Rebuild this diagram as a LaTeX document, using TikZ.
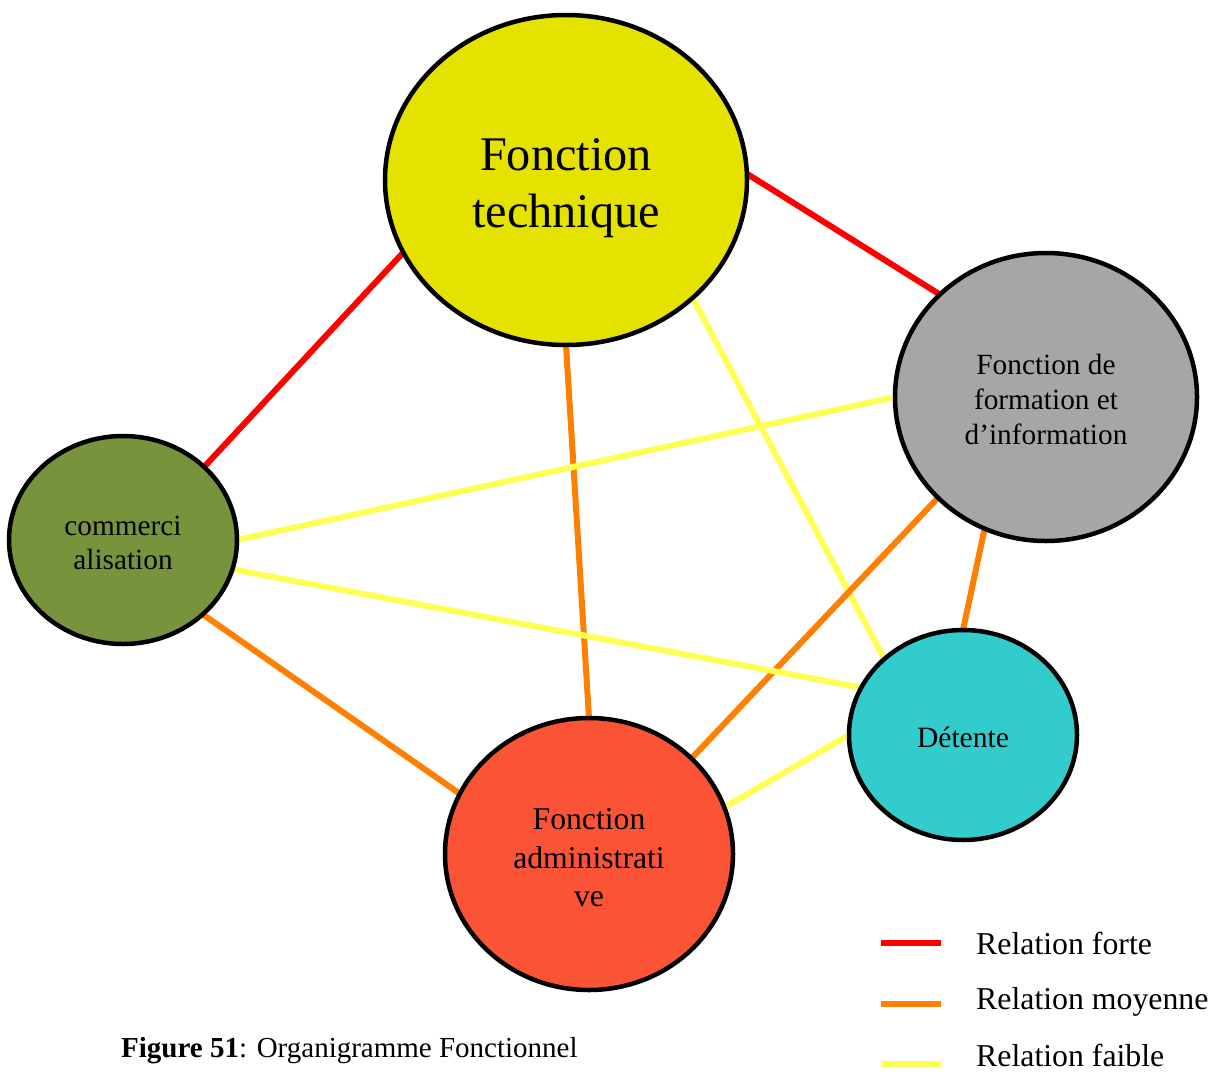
\documentclass[tikz,border=0pt]{standalone}
\usepackage{fontspec}
\setmainfont{Liberation Serif}
\usetikzlibrary{shapes.geometric,backgrounds}
\definecolor{ctech}{HTML}{E6E200}
\definecolor{cform}{HTML}{A6A6A6}
\definecolor{ccomm}{HTML}{77933C}
\definecolor{cdet}{HTML}{33CCCC}
\definecolor{cadm}{HTML}{FA5335}
\definecolor{lforte}{HTML}{FF0000}
\definecolor{lmoy}{HTML}{FF8000}
\definecolor{lfaible}{HTML}{FFFF55}
\tikzset{
  blob/.style={ellipse, draw=black, line width=4.5pt, inner sep=0pt, outer sep=0pt},
  txt/.style={align=center, inner sep=0pt},
  forte/.style={draw=lforte, line width=6pt},
  moy/.style={draw=lmoy, line width=6pt},
  faible/.style={draw=lfaible, line width=6pt},
  legtext/.style={anchor=west, inner sep=0pt, font=\fontsize{31.8}{36}\selectfont},
}
\begin{document}
\begin{tikzpicture}[x=1pt,y=-1pt]
\useasboundingbox (0,0) rectangle (1220,1071);
\node[blob, fill=ctech, minimum width=362pt, minimum height=330pt] (tech) at (566,180) {};
\node[blob, fill=cform, minimum width=302pt, minimum height=288pt] (form) at (1046,397) {};
\node[blob, fill=ccomm, minimum width=228pt, minimum height=208pt] (comm) at (123,540) {};
\node[blob, fill=cdet, minimum width=228pt, minimum height=210pt] (det) at (963,735) {};
\node[blob, fill=cadm, minimum width=288pt, minimum height=272pt] (adm) at (589,854) {};
\node[txt, font=\fontsize{48.3}{57}\selectfont] (techt) at ([yshift=-8pt]tech.center) {Fonction\\technique};
\node[txt, font=\fontsize{29.3}{35}\selectfont] (formt) at ([yshift=-2pt]form.center) {Fonction de\\formation et\\d’information};
\node[txt, font=\fontsize{29.3}{34}\selectfont] (commt) at ([yshift=-3pt]comm.center) {commerci\\alisation};
\node[txt, font=\fontsize{29.5}{34}\selectfont] (dett) at ([yshift=-2pt]det.center) {Détente};
\node[txt, font=\fontsize{31.7}{38.5}\selectfont] (admt) at ([yshift=-4pt]adm.center) {Fonction\\administrati\\ve};
\begin{scope}[on background layer]
\draw[forte] (tech.2) -- (form.136.7);
\draw[forte] (tech.204.4) -- (comm.42.8);
\draw[moy] (tech.270) -- (adm.90);
\draw[faible] (tech.317.4) -- (det.136.5);
\draw[faible] (form.180) -- (comm.0);
\draw[moy] (form.223.3) -- (adm.43.2);
\draw[moy] (form.245.1) -- (det.90);
\draw[faible] (comm.345.3) -- (det.155.3);
\draw[moy] (comm.317.2) -- (adm.155.3);
\draw[faible] (det.180) -- (adm.19.9);
\end{scope}
% legend
\coordinate (l1a) at (881,943); \coordinate (l1b) at (941,943);
\coordinate (l2a) at (881,1004); \coordinate (l2b) at (941,1004);
\coordinate (l3a) at (881,1064); \coordinate (l3b) at (941,1064);
\draw[forte] (l1a) -- (l1b);
\draw[moy] (l2a) -- (l2b);
\draw[faible] (l3a) -- (l3b);
\node[legtext] (t1) at (976,943) {Relation forte};
\node[legtext] (t2) at (976,1002) {Relation moyenne};
\node[legtext] (t3) at (976,1055) {Relation faible};
\node[anchor=west, inner sep=0pt, font=\fontsize{29}{32}\selectfont] (cap) at (121,1051) {\textbf{Figure 51}: Organigramme Fonctionnel};
\end{tikzpicture}
\end{document}
